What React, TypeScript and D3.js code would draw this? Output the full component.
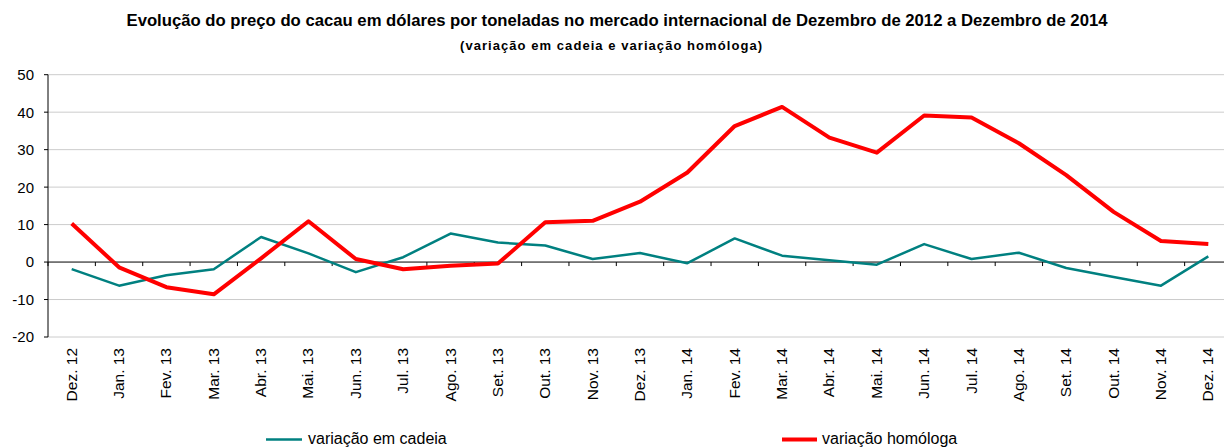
import React from "react";
import * as d3 from "d3";

const categories = ["Dez. 12","Jan. 13","Fev. 13","Mar. 13","Abr. 13","Mai. 13","Jun. 13","Jul. 13","Ago. 13","Set. 13","Out. 13","Nov. 13","Dez. 13","Jan. 14","Fev. 14","Mar. 14","Abr. 14","Mai. 14","Jun. 14","Jul. 14","Ago. 14","Set. 14","Out. 14","Nov. 14","Dez. 14"];
const variacaoCadeia = [-1.9,-6.3,-3.5,-1.9,6.7,2.3,-2.7,1.3,7.6,5.2,4.4,0.8,2.4,-0.3,6.3,1.7,0.5,-0.7,4.8,0.8,2.5,-1.6,-4.0,-6.3,1.5];
const variacaoHomologa = [10.3,-1.4,-6.7,-8.6,1.0,10.9,0.8,-1.9,-1.0,-0.4,10.6,11.0,16.1,23.9,36.3,41.4,33.2,29.2,39.1,38.6,31.7,23.2,13.4,5.6,4.8];
const yTicks = [-20,-10,0,10,20,30,40,50];
const title = "Evolução do preço do cacau em dólares por toneladas no mercado internacional de Dezembro de 2012 a Dezembro de 2014";
const subtitle = "(variação em cadeia e variação homóloga)";
const legendLabels = ["variação em cadeia", "variação homóloga"];

export default function App() {
  const W = 1224, H = 448;
  const left = 48, right = 1232, top = 74.7, bottom = 337;
  const x = d3.scaleBand<string>().domain(categories).range([left, right]);
  const y = d3.scaleLinear().domain([-20, 50]).range([bottom, top]);
  const cx = (i: number) => (x(categories[i]) as number) + x.bandwidth() / 2;
  const line = d3.line<number>().x((_, i) => cx(i)).y(d => y(d));
  const font = "Arial, 'Liberation Sans', sans-serif";
  const boundaries = categories.map((c) => x(c) as number).concat([right]);
  return (
    <svg width={W} height={H} style={{ position: "absolute", left: 0, top: 0, background: "#fff" }} fontFamily={font}>
      <rect width={W} height={H} fill="#fff" />
      <text x={617} y={26} textAnchor="middle" fontSize={16.7} fontWeight="bold" textLength={981} lengthAdjust="spacingAndGlyphs">{title}</text>
      <text x={611} y={50} textAnchor="middle" fontSize={13} fontWeight="bold" textLength={302} lengthAdjust="spacing">{subtitle}</text>
      {yTicks.map(t => (
        <g key={t}>
          {t !== 0 && <line x1={left} x2={right} y1={y(t)} y2={y(t)} stroke="#cccccc" strokeWidth={1} />}
          <line x1={left - 4} x2={left} y1={y(t)} y2={y(t)} stroke="#000" />
          <text x={34} y={y(t)} dy="0.36em" textAnchor="end" fontSize={15}>{t}</text>
        </g>
      ))}
      <line x1={left} x2={left} y1={top} y2={bottom} stroke="#000" />
      <line x1={left} x2={right} y1={y(0)} y2={y(0)} stroke="#000" />
      {boundaries.map((b, i) => (
        <line key={i} x1={b} x2={b} y1={y(0)} y2={y(0) + 4} stroke="#000" />
      ))}
      {categories.map((c, i) => (
        <text key={c} transform={`translate(${cx(i) + 5},348) rotate(-90)`} textAnchor="end" fontSize={15.5}>{c}</text>
      ))}
      <path d={line(variacaoCadeia) as string} fill="none" stroke="#008080" strokeWidth={2.5} strokeLinejoin="round" />
      <path d={line(variacaoHomologa) as string} fill="none" stroke="#ff0000" strokeWidth={4} strokeLinejoin="round" />
      <line x1={266} x2={302} y1={439.5} y2={439.5} stroke="#008080" strokeWidth={2.5} />
      <text x={308} y={444} fontSize={16}>{legendLabels[0]}</text>
      <line x1={782} x2={817} y1={439.5} y2={439.5} stroke="#ff0000" strokeWidth={4} />
      <text x={822} y={444} fontSize={16}>{legendLabels[1]}</text>
    </svg>
  );
}
